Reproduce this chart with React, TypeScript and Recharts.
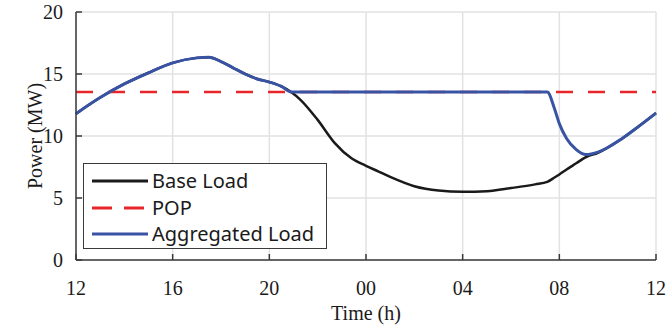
import {
  CartesianGrid,
  Line,
  LineChart,
  XAxis,
  YAxis
} from "recharts";

// time axis runs from 12:00 one day to 12:00 the next (hours 12..36)
const hours = [
  12, 13, 14, 15, 16, 17, 17.5, 18, 18.5, 19, 19.5, 20, 20.5, 20.9, 21.3, 22, 22.7, 23.4, 24, 24.5,
  25, 26, 27, 28, 29, 30, 31, 31.5, 31.8, 32, 32.3, 32.7, 33.1, 33.6, 34.6, 35.3, 36
];

const baseLoad = [
  11.8, 13.1, 14.2, 15.1, 15.9, 16.3, 16.35, 16.0, 15.5, 15.0, 14.6, 14.35, 14.0, 13.55, 12.9,
  11.3, 9.45, 8.2, 7.6, 7.15, 6.7, 5.95, 5.6, 5.5, 5.55, 5.8, 6.1, 6.3, 6.65, 6.9, 7.3, 7.8, 8.3,
  8.65, 9.8, 10.8, 11.85
];

const aggregatedLoad = [
  11.8, 13.1, 14.2, 15.1, 15.9, 16.3, 16.35, 16.0, 15.5, 15.0, 14.6, 14.35, 14.0, 13.55, 13.55,
  13.55, 13.55, 13.55, 13.55, 13.55, 13.55, 13.55, 13.55, 13.55, 13.55, 13.55, 13.55, 13.55, 12.2,
  11.0, 9.8, 8.9, 8.5, 8.7, 9.8, 10.8, 11.85
];

const POP_MW = 13.55;

const xTicks = [12, 16, 20, 24, 28, 32, 36];
const yTicks = [0, 5, 10, 15, 20];

const AXIS_COLOR = "#3a3a3a";
const GRID_COLOR = "#e2e2e2";
const SERIF = "'Liberation Serif', 'Times New Roman', serif";

const legendItems = [
  { label: "Base Load", color: "#1a1a1a", dash: undefined },
  { label: "POP", color: "#e8262a", dash: "20 12" },
  { label: "Aggregated Load", color: "#3953a4", dash: undefined }
];

function formatHour(value: number): string {
  const h = value % 24;
  return h < 10 ? `0${h}` : `${h}`;
}

function LegendBox(): JSX.Element {
  return (
    <div
      style={{
        position: "absolute",
        left: 83,
        top: 163,
        width: 244,
        height: 86,
        border: `1.5px solid ${AXIS_COLOR}`,
        background: "#fff",
        boxSizing: "border-box",
        paddingTop: 4,
        fontFamily: "'Noto Sans', sans-serif",
        fontSize: 20,
        color: "#1a1a1a"
      }}
    >
      {legendItems.map((item) => (
        <div key={item.label} style={{ display: "flex", alignItems: "center", height: 26.5 }}>
          <svg width={68} height={10} style={{ flex: "none" }}>
            <line
              x1={8}
              x2={64}
              y1={5}
              y2={5}
              stroke={item.color}
              strokeWidth={3}
              strokeDasharray={item.dash}
            />
          </svg>
          <span style={{ whiteSpace: "nowrap", lineHeight: 1 }}>{item.label}</span>
        </div>
      ))}
    </div>
  );
}

export default function App(): JSX.Element {
  const data = hours.map((hour, i) => ({
    hour,
    base: baseLoad[i],
    aggregated: aggregatedLoad[i],
    pop: POP_MW
  }));

  const tickStyle = { fill: "#1a1a1a", fontSize: 20, fontFamily: SERIF };

  return (
    <div style={{ position: "absolute", left: 0, top: 0, width: 666, height: 330, background: "#fff" }}>
      <LineChart width={666} height={330} data={data} margin={{ top: 12, right: 10, bottom: 0, left: 0 }}>
        <CartesianGrid stroke={GRID_COLOR} strokeWidth={1.5} />
        <XAxis
          dataKey="hour"
          type="number"
          domain={[12, 36]}
          ticks={xTicks}
          tickFormatter={formatHour}
          height={70}
          tickSize={-6}
          tickMargin={27}
          stroke={AXIS_COLOR}
          strokeWidth={1.5}
          tick={tickStyle}
          label={{
            value: "Time (h)",
            position: "center",
            dy: 18,
            style: { fill: "#1a1a1a", fontSize: 20, fontFamily: SERIF }
          }}
        />
        <XAxis
          xAxisId="top"
          orientation="top"
          dataKey="hour"
          type="number"
          domain={[12, 36]}
          ticks={xTicks}
          height={0}
          tickSize={-6}
          tick={false}
          stroke={AXIS_COLOR}
          strokeWidth={1.5}
        />
        <YAxis
          type="number"
          domain={[0, 20]}
          ticks={yTicks}
          width={76}
          tickSize={-6}
          tickMargin={19}
          stroke={AXIS_COLOR}
          strokeWidth={1.5}
          tick={tickStyle}
          label={{
            value: "Power (MW)",
            angle: -90,
            position: "center",
            dx: -3,
            style: { fill: "#1a1a1a", fontSize: 20, fontFamily: SERIF, textAnchor: "middle" }
          }}
        />
        <YAxis
          yAxisId="right"
          orientation="right"
          type="number"
          domain={[0, 20]}
          ticks={yTicks}
          width={0}
          tickSize={-6}
          tick={false}
          stroke={AXIS_COLOR}
          strokeWidth={1.5}
        />
        <Line
          dataKey="base"
          type="monotone"
          stroke="#1a1a1a"
          strokeWidth={2.5}
          dot={false}
          isAnimationActive={false}
        />
        <Line
          dataKey="pop"
          type="linear"
          stroke="#e8262a"
          strokeWidth={2.5}
          strokeDasharray="17 15"
          dot={false}
          isAnimationActive={false}
        />
        <Line
          dataKey="aggregated"
          type="monotone"
          stroke="#3953a4"
          strokeWidth={3}
          dot={false}
          isAnimationActive={false}
        />
      </LineChart>
      <LegendBox />
    </div>
  );
}
